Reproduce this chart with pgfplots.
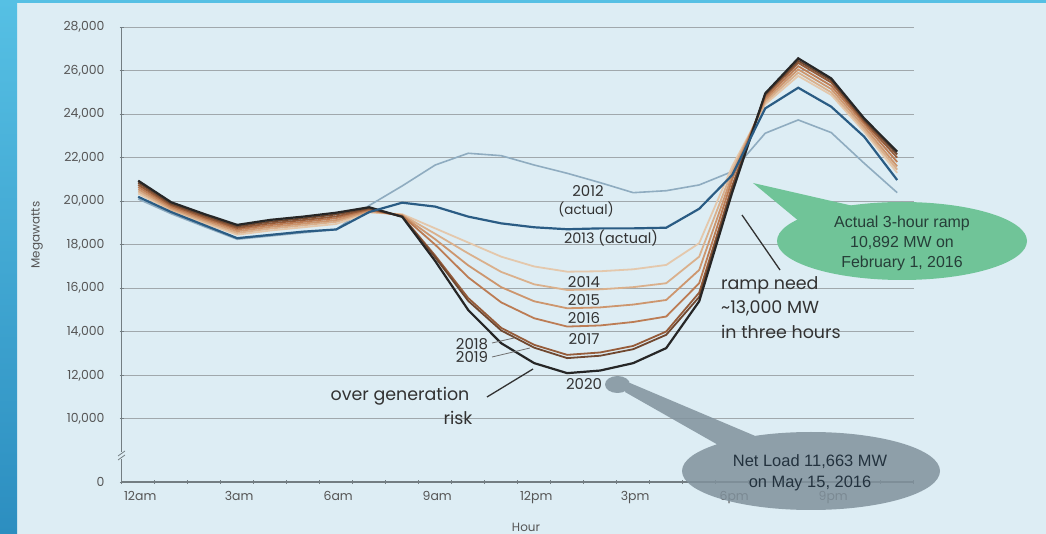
\documentclass[border=0pt]{standalone}
\usepackage{pgfplots}
\pgfplotsset{compat=1.18}
\usepackage{pgfplotstable}
\usepackage{fontspec}
\setmainfont{Poppins}
\newfontfamily\arialfont{Liberation Sans}

\definecolor{panel}{RGB}{221,237,244}
\definecolor{bluetop}{RGB}{86,192,228}
\definecolor{bluebot}{RGB}{44,142,192}
\definecolor{axisgray}{RGB}{115,125,130}
\definecolor{gridgray}{RGB}{160,168,172}
\definecolor{labelgray}{RGB}{85,85,85}
\definecolor{textdark}{RGB}{50,50,50}
\definecolor{c12}{RGB}{143,172,192}
\definecolor{c13}{RGB}{42,92,132}
\definecolor{c14}{RGB}{228,200,172}
\definecolor{c15}{RGB}{218,176,140}
\definecolor{c16}{RGB}{205,150,110}
\definecolor{c17}{RGB}{188,124,84}
\definecolor{c18}{RGB}{150,92,58}
\definecolor{c19}{RGB}{112,72,48}
\definecolor{c20}{RGB}{38,38,38}
\definecolor{callgreen}{RGB}{112,196,152}
\definecolor{callgray}{RGB}{129,146,157}

% net load by hour (MW), hour-ending midpoints
\pgfplotstableread{
h    a12   a13   a14   a15   a16   a17   a18   a19   a20
0.5  20100 20200 20350 20450 20550 20650 20750 20850 20940
1.5  19420 19500 19560 19620 19680 19750 19820 19880 19950
2.5  18830 18900 18990 19060 19130 19200 19270 19340 19410
3.5  18250 18300 18460 18540 18620 18700 18770 18840 18910
4.5  18400 18450 18650 18740 18820 18900 18980 19060 19140
5.5  18550 18600 18800 18890 18970 19050 19130 19210 19290
6.5  18700 18700 18950 19050 19130 19220 19300 19390 19470
7.5  19800 19500 19480 19520 19560 19600 19640 19680 19720
8.5  20700 19930 19400 19370 19350 19330 19300 19290 19280
9.5  21660 19750 18750 18500 18250 18000 17500 17420 17250
10.5 22200 19290 18100 17600 17050 16500 15550 15420 15000
11.5 22090 18980 17450 16750 16050 15350 14180 14060 13475
12.5 21660 18800 17000 16180 15400 14620 13400 13270 12560
13.5 21280 18710 16760 15920 15080 14240 12940 12790 12100
14.5 20850 18750 16780 15950 15120 14290 13050 12900 12220
15.5 20390 18750 16870 16050 15250 14450 13350 13200 12560
16.5 20480 18780 17070 16230 15460 14700 14010 13860 13250
17.5 20745 19650 18070 17450 16840 16230 15800 15600 15400
18.5 21360 21200 21600 21400 21200 21000 20700 20600 20400
19.5 23120 24260 24450 24550 24650 24750 24850 24900 24950
20.5 23730 25210 25750 25900 26050 26200 26350 26450 26560
21.5 23150 24340 24880 25000 25150 25300 25450 25550 25640
22.5 21740 22960 23190 23300 23420 23550 23650 23720 23800
23.5 20390 20970 21300 21450 21600 21800 22000 22150 22270
}\netload

\begin{document}
\begin{tikzpicture}
% slide background
\fill[panel] (0,0) rectangle (1046bp,534bp);
\shade[top color=bluetop, bottom color=bluebot] (0,0) rectangle (17bp,534bp);
\fill[bluetop] (0,531bp) rectangle (1046bp,534bp);
\path[use as bounding box] (0,0) rectangle (1046bp,534bp);

\begin{axis}[
  at={(121.7bp,52bp)}, anchor=south west,
  scale only axis, width=792bp, height=455bp,
  xmin=0, xmax=24, ymin=7100, ymax=28000,
  axis x line=bottom, axis y line=left,
  axis line style={axisgray, line width=1.1bp, -},
  tick style={axisgray, line width=0.8bp},
  major tick length=4bp, tick align=center,
  xtick={0,1,...,24}, xticklabels={},
  extra x ticks={0.5,3.5,6.5,9.5,12.5,15.5,18.5,21.5},
  extra x tick labels={12am,3am,6am,9am,12pm,3pm,6pm,9pm},
  extra x tick style={major tick length=0pt,
    xticklabel style={anchor=north, inner sep=0pt, yshift=-9bp, xshift=2bp}},
  ytick={10000,12000,...,28000},
  scaled y ticks=false,
  /pgf/number format/1000 sep={,},
  /pgf/number format/assume math mode=true,
  extra y ticks={7100}, extra y tick labels={0},
  extra y tick style={grid=none},
  yticklabel style={anchor=east, inner sep=0pt, xshift=-15bp},
  ticklabel style={font=\fontsize{12.5}{12.5}\selectfont, text=labelgray},
  ymajorgrids=true,
  grid style={gridgray, line width=0.9bp},
  no markers,
]
\addplot[c12, line width=1.6bp] table[x=h, y=a12]{\netload};
\addplot[c14, line width=1.8bp] table[x=h, y=a14]{\netload};
\addplot[c15, line width=1.8bp] table[x=h, y=a15]{\netload};
\addplot[c16, line width=1.8bp] table[x=h, y=a16]{\netload};
\addplot[c17, line width=1.8bp] table[x=h, y=a17]{\netload};
\addplot[c18, line width=1.8bp] table[x=h, y=a18]{\netload};
\addplot[c19, line width=1.8bp] table[x=h, y=a19]{\netload};
\addplot[c20, line width=2.2bp] table[x=h, y=a20]{\netload};
\addplot[c13, line width=2.2bp] table[x=h, y=a13]{\netload};
\end{axis}

% axis break
\fill[panel] (117bp,75bp) rectangle (127bp,82bp);
\draw[axisgray, line width=0.8bp] (118bp,74bp) -- (125bp,79bp);
\draw[axisgray, line width=0.8bp] (118bp,78bp) -- (125bp,83bp);

% axis titles
\node[rotate=90, font=\fontsize{12}{12}\selectfont, text=labelgray] at (37bp,299bp) {Megawatts};
\node[font=\fontsize{12}{12}\selectfont, text=labelgray] at (526bp,7bp) {Hour};

% curve labels
\begin{scope}[every node/.style={font=\fontsize{15}{15}\selectfont, text=textdark, inner sep=0pt}]
\node at (588bp,343bp) {2012};
\node[font=\fontsize{13.5}{13.5}\selectfont] at (586bp,325bp) {(actual)};
\node[font=\fontsize{14.5}{14.5}\selectfont] at (611bp,295.5bp) {2013 (actual)};
\node at (584bp,252bp) {2014};
\node at (584bp,234bp) {2015};
\node at (584bp,216bp) {2016};
\node at (584bp,195bp) {2017};
\node at (472bp,190bp) {2018};
\node at (472bp,176.5bp) {2019};
\node at (584bp,150bp) {2020};
\end{scope}
\draw[textdark!70, line width=0.8bp] (492bp,191bp) -- (514bp,196bp);
\draw[textdark!70, line width=0.8bp] (492bp,177bp) -- (530bp,186bp);

% annotations
\begin{scope}[every node/.style={font=\fontsize{17.5}{17.5}\selectfont, text=textdark, inner sep=0pt}]
\node at (400bp,138bp) {over generation};
\node at (458bp,116bp) {risk};
\node[anchor=west] at (721bp,249bp) {ramp need};
\node[anchor=west] at (721bp,226bp) {\char"007E 13,000 MW};
\node[anchor=west] at (721bp,202bp) {in three hours};
\end{scope}
\draw[textdark, line width=1.3bp] (487bp,137bp) -- (533bp,165bp);
\draw[textdark, line width=1.3bp] (742bp,319bp) -- (780bp,264bp);

% green callout
\fill[callgreen] (902bp,293bp) ellipse (125bp and 39bp);
\fill[callgreen] (753bp,351bp) -- (862bp,326bp) -- (800bp,312bp) -- cycle;
\begin{scope}[every node/.style={font=\arialfont\fontsize{16}{16}\selectfont, text={rgb,255:red,38;green,62;blue,56}, inner sep=0pt}]
\node at (902bp,311bp) {Actual 3-hour ramp};
\node at (902bp,291bp) {10,892 MW on};
\node at (902bp,271bp) {February 1, 2016};
\end{scope}

% gray callout
\fill[callgray, opacity=0.85]
  (811bp,63bp) ellipse (129bp and 39bp)
  (630bp,151bp) -- (625bp,142bp) -- (720bp,88bp) -- (760bp,96bp) -- cycle
  (617.5bp,149.5bp) ellipse (12.5bp and 8.5bp);
\begin{scope}[every node/.style={font=\arialfont\fontsize{16.5}{16.5}\selectfont, text={rgb,255:red,35;green,50;blue,62}, inner sep=0pt}]
\node at (810bp,72bp) {Net Load 11,663 MW};
\node at (810bp,51bp) {on May 15, 2016};
\end{scope}
\end{tikzpicture}
\end{document}
